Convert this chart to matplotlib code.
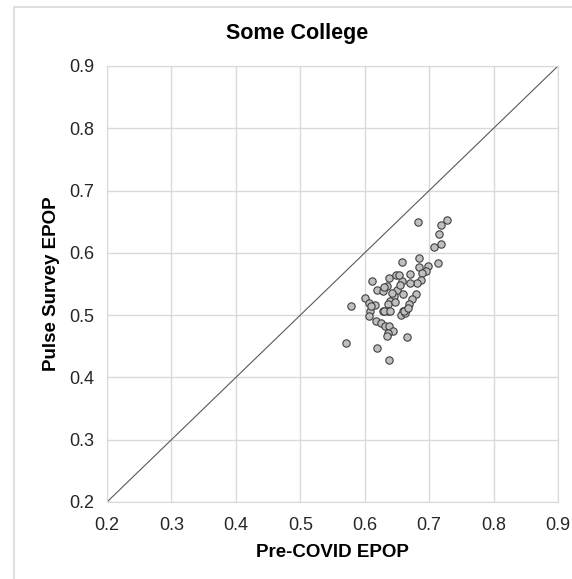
import matplotlib
matplotlib.use("Agg")
import matplotlib.pyplot as plt
from matplotlib.patches import Rectangle

plt.rcParams['font.family'] = ['Liberation Sans', 'DejaVu Sans']

# pre-COVID EPOP vs Pulse survey EPOP, some college
pre_covid = [0.683, 0.727, 0.719, 0.716, 0.718, 0.707, 0.714, 0.685, 0.698, 0.684,
             0.658, 0.695, 0.689, 0.671, 0.688, 0.681, 0.671, 0.658, 0.649, 0.653,
             0.637, 0.612, 0.635, 0.619, 0.628, 0.650, 0.655, 0.645, 0.659, 0.679,
             0.673, 0.640, 0.601, 0.578, 0.616, 0.607, 0.636, 0.647, 0.669, 0.664,
             0.659, 0.636, 0.628, 0.608, 0.606, 0.617, 0.625, 0.631, 0.637, 0.644,
             0.636, 0.635, 0.665, 0.619, 0.638, 0.571, 0.656, 0.662, 0.661, 0.630,
             0.639, 0.610, 0.667, 0.630, 0.642]
pulse = [0.649, 0.652, 0.644, 0.631, 0.615, 0.609, 0.584, 0.591, 0.579, 0.578,
         0.586, 0.571, 0.568, 0.566, 0.556, 0.551, 0.551, 0.555, 0.565, 0.565,
         0.560, 0.555, 0.546, 0.541, 0.539, 0.541, 0.549, 0.530, 0.534, 0.534,
         0.526, 0.523, 0.528, 0.515, 0.516, 0.520, 0.518, 0.521, 0.518, 0.509,
         0.507, 0.507, 0.507, 0.506, 0.498, 0.491, 0.487, 0.483, 0.482, 0.475,
         0.472, 0.467, 0.465, 0.448, 0.428, 0.455, 0.500, 0.503, 0.507, 0.506,
         0.507, 0.515, 0.511, 0.545, 0.535]
ticks = [0.2, 0.3, 0.4, 0.5, 0.6, 0.7, 0.8, 0.9]

fig = plt.figure(figsize=(5.72, 5.79), dpi=100)
ax = fig.add_axes([107/572, 1-502/579, 451/572, 436/579])

# chart area border (cut off on the right and bottom like the screenshot)
fig.patches.append(Rectangle((14/572, -0.1), 1.2, 1-7/579+0.1, transform=fig.transFigure,
                             fill=False, edgecolor='#d9d9d9', linewidth=1.2))

ax.plot([0.2, 0.9], [0.2, 0.9], color='#595959', linewidth=0.8, zorder=2)
ax.scatter(pre_covid, pulse, s=28, facecolor='#bfbfbf', edgecolor='#404040',
           linewidth=0.8, zorder=3)

ax.set_xlim(0.2, 0.9)
ax.set_ylim(0.2, 0.9)
ax.set_xticks(ticks)
ax.set_yticks(ticks)
ax.set_xticklabels(['%.1f' % t for t in ticks])
ax.set_yticklabels(['%.1f' % t for t in ticks])
ax.grid(True, color='#d9d9d9', linewidth=1)
ax.set_axisbelow(True)
for s in ax.spines.values():
    s.set_color('#d9d9d9')
ax.tick_params(length=0, labelsize=13, colors='#262626')
ax.tick_params(axis='y', pad=9)
ax.tick_params(axis='x', pad=11)

ax.set_xlabel('Pre-COVID EPOP', fontsize=13.5, fontweight='bold', labelpad=7)
ax.set_ylabel('Pulse Survey EPOP', fontsize=13.5, fontweight='bold', labelpad=7)
fig.text(297/572, 1-33/579, 'Some College', ha='center', va='center',
         fontsize=15.5, fontweight='bold')

fig.savefig('out.png', dpi=100)
